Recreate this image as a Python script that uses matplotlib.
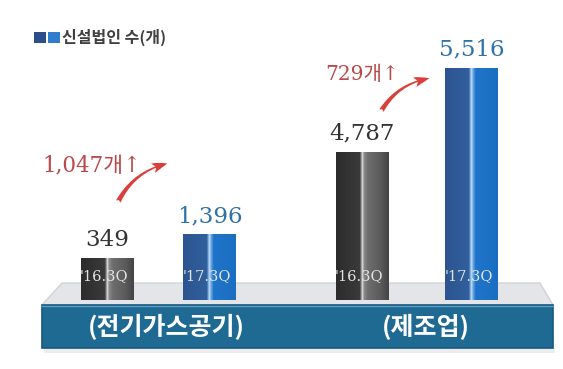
import matplotlib.pyplot as plt
import numpy as np
from matplotlib.colors import LinearSegmentedColormap
from matplotlib.patches import Rectangle, Polygon, FancyArrowPatch

# data
groups = ['(전기가스공기)', '(제조업)']
periods = ["'16.3Q", "'17.3Q"]
elec = [349, 1396]
manuf = [4787, 5516]
increase = [1047, 729]
legend_label = '신설법인 수(개)'

W, H = 563, 369
fig = plt.figure(figsize=(W / 100, H / 100), dpi=100)
fig.patch.set_facecolor('white')

bg = fig.add_axes([0, 0, 1, 1])
bg.set_xlim(0, W)
bg.set_ylim(H, 0)
bg.axis('off')


def px_axes(x0, y0, x1, y1):
  ax = fig.add_axes([x0 / W, 1 - y1 / H, (x1 - x0) / W, (y1 - y0) / H])
  ax.patch.set_alpha(0)
  ax.axis('off')
  return ax


# platform
bg.add_patch(Polygon([(62, 283), (540, 283), (553, 305), (42, 305)],
                     closed=True, facecolor='#e4e5e8', edgecolor='#d2d3d7', lw=1))
bg.add_patch(Rectangle((44, 348), 511, 5, facecolor='#ededee', edgecolor='none'))
bg.add_patch(Rectangle((42, 305), 511, 43, facecolor='#1f6a93', edgecolor='#17597e', lw=1.2))
bg.plot([42, 553], [306, 306], color='#5b9cc2', lw=1)
for cx, g in zip([166, 426], groups):
  bg.text(cx, 327, g, ha='center', va='center', color='white', fontsize=18,
          fontweight='bold', family=['Noto Sans CJK KR', 'DejaVu Sans'])

# legend
bg.add_patch(Rectangle((34, 32), 12, 11, facecolor='#2c4f8c', edgecolor='none'))
bg.add_patch(Rectangle((48, 32), 12, 11, facecolor='#2f7dcc', edgecolor='none'))
bg.text(62, 37.5, legend_label, ha='left', va='center', fontsize=11.5, color='#404040',
        fontweight='bold', family=['Noto Sans CJK KR', 'DejaVu Sans'])

gray_cmap = LinearSegmentedColormap.from_list(
  'g', [(0, '#2c2c2c'), (0.45, '#3a3a3a'), (0.48, '#9a9a9a'), (0.5, '#e0e0e0'),
        (0.53, '#8a8a8a'), (0.6, '#6e6e6e'), (0.85, '#5a5a5a'), (1, '#444444')])
blue_cmap = LinearSegmentedColormap.from_list(
  'b', [(0, '#2d5490'), (0.45, '#30609c'), (0.48, '#7fb0e0'), (0.5, '#c4def5'),
        (0.53, '#6aa8e6'), (0.58, '#1f74c9'), (1, '#1b6fc2')])
grad = np.linspace(0, 1, 200).reshape(1, -1)


def draw_group(ax, values, ylim, unit_px, left_px, width_px, axw_px):
  lo = -left_px / unit_px
  w = width_px / unit_px
  bars = ax.bar(range(len(values)), [v - ylim[0] for v in values], bottom=ylim[0],
                width=w, color='none', edgecolor='none')
  for i, (b, v) in enumerate(zip(bars, values)):
    cmap = gray_cmap if i == 0 else blue_cmap
    im = ax.imshow(grad, cmap=cmap, aspect='auto',
                   extent=(i - w / 2, i + w / 2, ylim[0], v), zorder=2)
    im.set_clip_path(b)
    ax.annotate(f'{v:,}', xy=(i, v), xytext=(0, 5), textcoords='offset points',
                ha='center', va='bottom', fontsize=16.5, family='DejaVu Serif',
                color='#333333' if i == 0 else '#2f72a6', annotation_clip=False)
    ax.annotate(periods[i], xy=(i, ylim[0]), xytext=(-2, 17), textcoords='offset points',
                ha='center', va='center', fontsize=10.5, family='DejaVu Serif',
                color='#e4e4e4', zorder=3, annotation_clip=False)
  ax.set_xlim(lo, lo + axw_px / unit_px)
  ax.set_ylim(*ylim)


ax1 = px_axes(50, 20, 270, 300)
draw_group(ax1, elec, (-1519, 10848), 102.5, 57, 53, 220)
ax2 = px_axes(300, 20, 540, 300)
draw_group(ax2, manuf, (3500, 5931), 109.5, 62, 53, 240)

# increase annotations
red = '#b9484a'
for (tx, ty), inc, fs, (a, b) in zip([(42, 166), (325, 74)], increase, [15.5, 14.5],
                                     [((117, 204), (170, 163)), ((380, 113), (432, 78))]):
  bg.text(tx, ty, f'{inc:,}개↑', ha='left', va='center', fontsize=fs, color=red,
          family=['DejaVu Serif', 'Noto Sans CJK KR'])
  bg.add_patch(FancyArrowPatch(a, b, connectionstyle='arc3,rad=-0.25',
                               arrowstyle='fancy,head_width=0.6,head_length=0.9,tail_width=0.3',
                               mutation_scale=12, color='#d9403c', lw=0, zorder=5))

fig.savefig('out.png', dpi=100)
